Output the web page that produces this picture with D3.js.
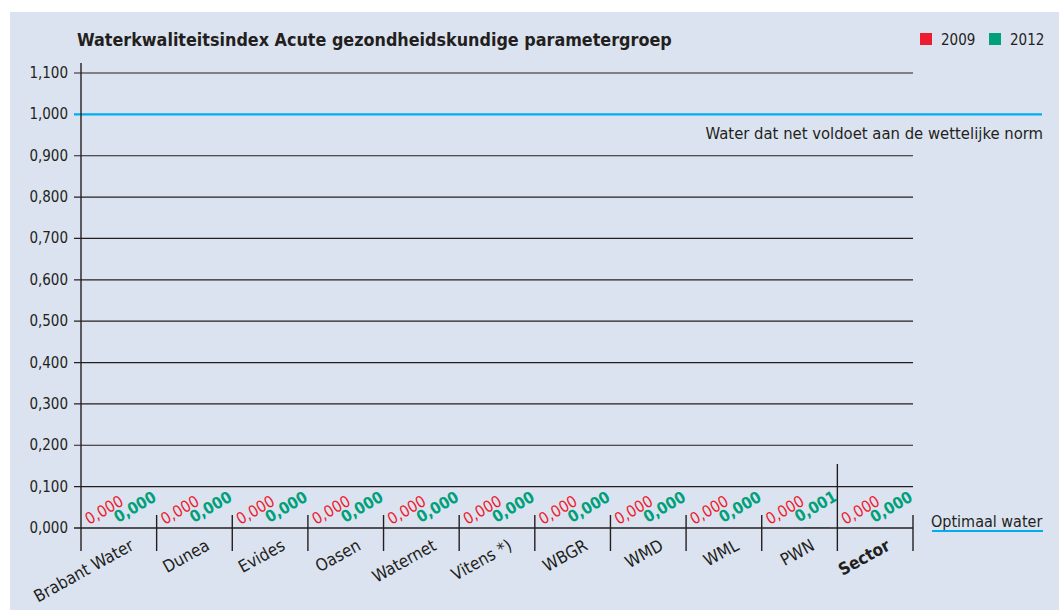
<!DOCTYPE html>
<html>
<head>
<meta charset="utf-8">
<script src="https://cdn.jsdelivr.net/npm/d3@7"></script>
<style>
  body { margin: 0; background: #fff; }
  text { font-family: "Liberation Sans Narrow", "DejaVu Sans Condensed", "Roboto Condensed", sans-serif; fill: #231f20; }
</style>
</head>
<body>
<script>
var categories = ["Brabant Water", "Dunea", "Evides", "Oasen", "Waternet", "Vitens *)", "WBGR", "WMD", "WML", "PWN", "Sector"];
var values2009 = [0, 0, 0, 0, 0, 0, 0, 0, 0, 0, 0];
var values2012 = [0, 0, 0, 0, 0, 0, 0, 0, 0, 0.001, 0];
var yTicks = [0, 0.1, 0.2, 0.3, 0.4, 0.5, 0.6, 0.7, 0.8, 0.9, 1.0, 1.1];
var years = ["2009", "2012"];

var red = "#ed1c2e", green = "#00a07a", blue = "#00aeef";
var width = 1059, height = 610;

var svg = d3.select("body").append("svg")
    .attr("width", width)
    .attr("height", height);

// panel
svg.append("rect")
    .attr("x", 10).attr("y", 12)
    .attr("width", width - 10).attr("height", height - 12)
    .attr("fill", "#dce3f0");

var x = d3.scaleBand().domain(categories).range([81, 913]);
var y = d3.scaleLinear().domain([0, 1.1]).range([528, 73]);

var fmt = function (v) { return d3.format(".3f")(v).replace(".", ","); };

// title
svg.append("text")
    .attr("x", 77).attr("y", 46)
    .style("font-size", "17.8px")
    .style("font-weight", "bold")
    .text("Waterkwaliteitsindex Acute gezondheidskundige parametergroep");

// legend
var legend = svg.selectAll(".leg").data(years).enter().append("g")
    .attr("transform", function (d, i) { return "translate(" + (920 + i * 69) + ",0)"; });
legend.append("rect")
    .attr("x", 0).attr("y", 33).attr("width", 12).attr("height", 12)
    .attr("fill", function (d, i) { return i === 0 ? red : green; });
legend.append("text")
    .attr("x", 21).attr("y", 45)
    .style("font-size", "15px")
    .text(function (d) { return d; });

// grid lines
svg.selectAll(".grid").data(yTicks.filter(function (t) { return t > 0 && Math.abs(t - 1) > 1e-9; }))
    .enter().append("line")
    .attr("x1", 74).attr("x2", 913)
    .attr("y1", function (d) { return y(d); })
    .attr("y2", function (d) { return y(d); })
    .attr("stroke", "#231f20").attr("stroke-width", 1.2);

// y tick labels
svg.selectAll(".ylab").data(yTicks).enter().append("text")
    .attr("x", 68)
    .attr("y", function (d) { return y(d) + 5; })
    .attr("text-anchor", "end")
    .style("font-size", "15px")
    .text(fmt);

// norm line
svg.append("line")
    .attr("x1", 74).attr("x2", 1042)
    .attr("y1", y(1)).attr("y2", y(1))
    .attr("stroke", blue).attr("stroke-width", 2.2);
svg.append("text")
    .attr("x", 1043).attr("y", y(1) + 25)
    .attr("text-anchor", "end")
    .style("font-size", "16.5px")
    .text("Water dat net voldoet aan de wettelijke norm");

// bars (heights from data)
var half = x.bandwidth() / 2;
svg.selectAll(".b09").data(categories).enter().append("rect")
    .attr("x", function (d) { return x(d) + 8; })
    .attr("width", half - 12)
    .attr("y", function (d, i) { return y(values2009[i]); })
    .attr("height", function (d, i) { return y(0) - y(values2009[i]); })
    .attr("fill", red);
svg.selectAll(".b12").data(categories).enter().append("rect")
    .attr("x", function (d) { return x(d) + half + 4; })
    .attr("width", half - 12)
    .attr("y", function (d, i) { return y(values2012[i]); })
    .attr("height", function (d, i) { return y(0) - y(values2012[i]); })
    .attr("fill", green);

// zero axis line
svg.append("line")
    .attr("x1", 74).attr("x2", 913)
    .attr("y1", y(0)).attr("y2", y(0))
    .attr("stroke", "#231f20").attr("stroke-width", 1.4);

// vertical axis
svg.append("line")
    .attr("x1", 81).attr("x2", 81)
    .attr("y1", 63).attr("y2", 551)
    .attr("stroke", "#231f20").attr("stroke-width", 1.4);

// group dividers
var dividers = categories.slice(1).map(function (c) { return x(c); }).concat([x.range()[1]]);
svg.selectAll(".div").data(dividers).enter().append("line")
    .attr("x1", function (d) { return d; }).attr("x2", function (d) { return d; })
    .attr("y1", function (d, i) { return i === categories.length - 2 ? 464 : 515; })
    .attr("y2", 551)
    .attr("stroke", "#231f20").attr("stroke-width", 1.4);

// value labels
svg.selectAll(".v09").data(categories).enter().append("text")
    .attr("transform", function (d, i) {
        return "translate(" + (x(d) + 8) + "," + (y(values2009[i]) - 3) + ") rotate(-30)";
    })
    .style("font-size", "16px")
    .style("fill", red)
    .text(function (d, i) { return fmt(values2009[i]); });
svg.selectAll(".v12").data(categories).enter().append("text")
    .attr("transform", function (d, i) {
        return "translate(" + (x(d) + 37) + "," + (y(values2012[i]) - 5) + ") rotate(-30)";
    })
    .style("font-size", "16px")
    .style("font-weight", "bold")
    .style("fill", green)
    .text(function (d, i) { return fmt(values2012[i]); });

// category labels
svg.selectAll(".cat").data(categories).enter().append("text")
    .attr("transform", function (d) {
        return "translate(" + (x(d) + 54) + ",549) rotate(-29)";
    })
    .attr("text-anchor", "end")
    .style("font-size", "17px")
    .style("font-weight", function (d) { return d === "Sector" ? "bold" : "normal"; })
    .text(function (d) { return d; });

// optimal label
svg.append("text")
    .attr("x", 931).attr("y", y(0) - 1)
    .style("font-size", "16px")
    .text("Optimaal water");
svg.append("line")
    .attr("x1", 932).attr("x2", 1043)
    .attr("y1", y(0) + 3).attr("y2", y(0) + 3)
    .attr("stroke", blue).attr("stroke-width", 2.2);
</script>
</body>
</html>
